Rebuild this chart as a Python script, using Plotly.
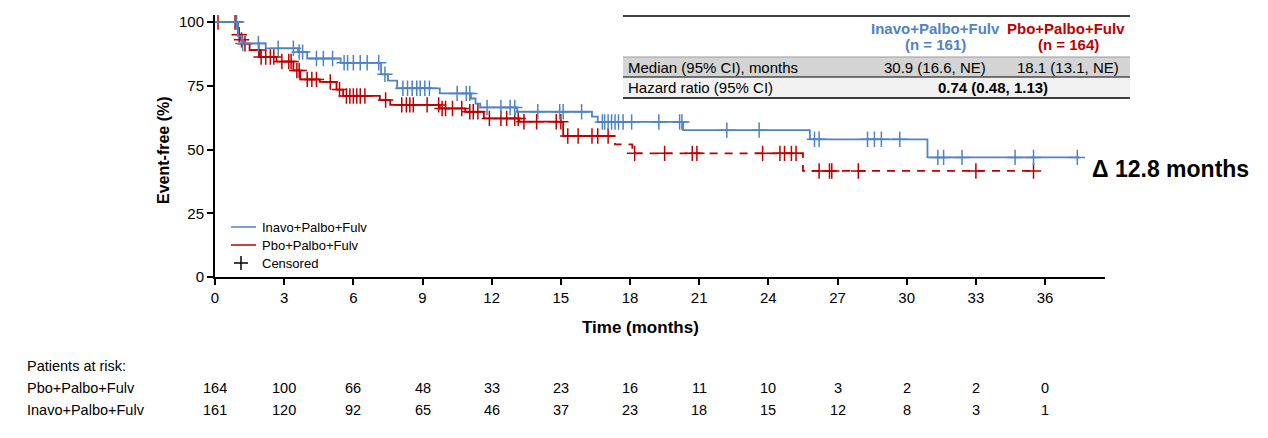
import numpy as np
import plotly.graph_objects as go

# ---------------- data ----------------
inavo_t = [0, 1.0, 1.15, 2.2, 3.6, 4.0, 5.45, 7.2, 7.5, 7.9, 9.75, 11.1, 11.3, 11.5,
           13.1, 16.35, 16.6, 20.3, 25.8, 30.9]
inavo_s = [100, 94.5, 91.6, 89.7, 88.2, 85.7, 84.0, 79.5, 77.0, 74.0, 72.0, 70.0, 68.0, 66.5,
           64.8, 62.9, 60.8, 57.6, 54.0, 46.9]
inavo_end = 37.5
inavo_cens = [0.94, 1.2, 1.88, 2.74, 3.4, 3.65, 3.8, 4.4, 4.7, 5.1, 5.6, 5.75, 6.0, 6.3, 6.6,
              7.1, 7.37, 8.15, 8.35, 8.55, 8.75, 8.9, 9.1, 9.3, 10.5, 10.9, 11.05, 11.8, 12.4,
              12.8, 13.0, 14.0, 14.95, 15.1, 15.9, 16.8, 16.9, 17.05, 17.2, 17.35, 17.5, 17.7,
              18.07, 19.25, 20.15, 20.25, 22.2, 23.6, 26.0, 26.2, 28.3, 28.6, 28.9, 29.7,
              31.35, 31.6, 32.4, 34.7, 35.5, 37.4]

pbo_t = [0, 1.0, 1.1, 1.2, 1.5, 1.95, 2.67, 3.4, 3.7, 4.55, 5.27, 5.56, 7.15, 7.6, 9.75,
         10.85, 11.66, 13.2, 15.1, 17.35, 18.1, 25.5]
pbo_s = [100, 95.0, 93.0, 91.5, 89.0, 86.3, 84.5, 81.0, 77.5, 76.5, 73.5, 71.0, 69.4, 67.5,
         66.1, 64.8, 62.2, 60.9, 55.3, 52.0, 48.5, 41.6]
pbo_end = 35.6
pbo_cens = [0.13, 0.87, 1.05, 1.15, 1.3, 1.9, 2.0, 2.2, 2.4, 2.55, 2.9, 3.2, 3.3, 3.55, 3.65,
            4.0, 4.2, 4.4, 5.0, 5.4, 5.7, 5.85, 6.0, 6.15, 6.3, 6.5, 7.4, 8.1, 8.3, 8.45, 8.6,
            9.2, 9.7, 9.85, 10.0, 10.3, 10.7, 11.05, 11.2, 11.4, 11.9, 12.4, 12.65, 13.0,
            13.15, 13.4, 13.95, 14.8, 15.0, 15.3, 15.75, 16.35, 16.6, 17.05, 18.2, 19.5,
            20.7, 20.9, 23.75, 24.5, 24.7, 25.0, 25.2, 26.2, 26.65, 26.75, 27.9, 33.0, 35.5]
pbo_dash_from = 17.0

x_ticks = [0, 3, 6, 9, 12, 15, 18, 21, 24, 27, 30, 33, 36]
y_ticks = [0, 25, 50, 75, 100]
risk_pbo = [164, 100, 66, 48, 33, 23, 16, 11, 10, 3, 2, 2, 0]
risk_inavo = [161, 120, 92, 65, 46, 37, 23, 18, 15, 12, 8, 3, 1]

arm_inavo = "Inavo+Palbo+Fulv"
arm_pbo = "Pbo+Palbo+Fulv"
tbl_median = ["30.9 (16.6, NE)", "18.1 (13.1, NE)"]
tbl_hr = "0.74 (0.48, 1.13)"
n_inavo, n_pbo = 161, 164
delta_text = "Δ 12.8 months"

# ---------------- styling ----------------
BLUE = "#4F83C6"
RED = "#C00000"
FONT = "Liberation Sans, Arial, Helvetica, sans-serif"

W_FIG, H_FIG = 1268, 438
L, R, T, B = 215, 1105, 15, 277
PW, PH = R - L, B - T


def px(x):
    return (x - L) / PW


def py(y):
    return (B - y) / PH


def surv_at(times, surv, t):
    idx = np.searchsorted(np.array(times), np.array(t), side="right") - 1
    return list(np.array(surv)[idx])


fig = go.Figure()

# Pbo (red): solid then dashed
s_split = surv_at(pbo_t, pbo_s, [pbo_dash_from])[0]
solid_x = [t for t in pbo_t if t < pbo_dash_from] + [pbo_dash_from]
solid_y = [s for t, s in zip(pbo_t, pbo_s) if t < pbo_dash_from] + [s_split]
dash_x = [pbo_dash_from] + [t for t in pbo_t if t > pbo_dash_from] + [pbo_end]
dash_y = [s_split] + [s for t, s in zip(pbo_t, pbo_s) if t > pbo_dash_from] + [pbo_s[-1]]

marker_common = dict(symbol="cross-thin", size=11)

fig.add_trace(go.Scatter(x=solid_x, y=solid_y, mode="lines", name=arm_pbo,
                         line=dict(color=RED, width=1.8, shape="hv")))
fig.add_trace(go.Scatter(x=dash_x, y=dash_y, mode="lines", name=arm_pbo,
                         line=dict(color=RED, width=1.8, shape="hv", dash="8px,7px")))
fig.add_trace(go.Scatter(x=pbo_cens, y=surv_at(pbo_t, pbo_s, pbo_cens), mode="markers",
                         name=arm_pbo + " censored",
                         marker=dict(**marker_common, line=dict(color=RED, width=1.5))))
fig.add_trace(go.Scatter(x=inavo_t + [inavo_end], y=inavo_s + [inavo_s[-1]], mode="lines",
                         name=arm_inavo, line=dict(color=BLUE, width=1.8, shape="hv")))
fig.add_trace(go.Scatter(x=inavo_cens, y=surv_at(inavo_t, inavo_s, inavo_cens), mode="markers",
                         name=arm_inavo + " censored",
                         marker=dict(**marker_common, line=dict(color=BLUE, width=1.5))))

# ---------------- table ----------------
shapes = []
TX0, TX1 = 623, 1130
shapes.append(dict(type="rect", xref="paper", yref="paper", x0=px(TX0), x1=px(TX1),
                   y0=py(77), y1=py(57), fillcolor="#D4D4D4", line=dict(width=0), layer="below"))
shapes.append(dict(type="rect", xref="paper", yref="paper", x0=px(TX0), x1=px(TX1),
                   y0=py(98), y1=py(77), fillcolor="#F2F2F2", line=dict(width=0), layer="below"))
for yy, col, w in [(16, "black", 1.5), (57, "#9A9A9A", 1), (77, "black", 1), (98, "black", 1.5)]:
    shapes.append(dict(type="line", xref="paper", yref="paper", x0=px(TX0), x1=px(TX1),
                       y0=py(yy), y1=py(yy), line=dict(color=col, width=w)))

# ---------------- manual legend ----------------
LEG_X0, LEG_X1, LEG_TX = 231, 256, 260
LEG_Y = [227, 245, 263]
shapes.append(dict(type="line", xref="paper", yref="paper", x0=px(LEG_X0), x1=px(LEG_X1),
                   y0=py(LEG_Y[0]), y1=py(LEG_Y[0]), line=dict(color=BLUE, width=1.5)))
shapes.append(dict(type="line", xref="paper", yref="paper", x0=px(LEG_X0), x1=px(LEG_X1),
                   y0=py(LEG_Y[1]), y1=py(LEG_Y[1]), line=dict(color=RED, width=1.5)))
cx, cy, hs = 241, LEG_Y[2], 7
shapes.append(dict(type="line", xref="paper", yref="paper", x0=px(cx - hs), x1=px(cx + hs),
                   y0=py(cy), y1=py(cy), line=dict(color="black", width=1.5)))
shapes.append(dict(type="line", xref="paper", yref="paper", x0=px(cx), x1=px(cx),
                   y0=py(cy - hs), y1=py(cy + hs), line=dict(color="black", width=1.5)))

ann = []


def text(x, y, s, size=15, color="black", bold=False, xanchor="center", xref="paper", angle=0):
    if bold:
        s = "<b>" + s + "</b>"
    ann.append(dict(x=px(x) if xref == "paper" else x, y=py(y), xref=xref, yref="paper",
                    text=s, showarrow=False, xanchor=xanchor, yanchor="middle",
                    font=dict(family=FONT, size=size, color=color), textangle=angle))


text(LEG_TX, LEG_Y[0], arm_inavo, size=13, xanchor="left")
text(LEG_TX, LEG_Y[1], arm_pbo, size=13, xanchor="left")
text(LEG_TX, LEG_Y[2], "Censored", size=13, xanchor="left")

text(935, 29, arm_inavo, color=BLUE, bold=True)
text(935, 45, f"(n = {n_inavo})", color=BLUE, bold=True)
text(1066, 29, arm_pbo, color=RED, bold=True)
text(1068, 45, f"(n = {n_pbo})", color=RED, bold=True)
text(626, 67, "Median (95% CI), months", xanchor="left")
text(935, 67, tbl_median[0])
text(1068, 67, tbl_median[1])
text(626, 87, "Hazard ratio (95% CI)", xanchor="left")
text(993, 87, tbl_hr, bold=True)

text(1090, 169, delta_text, size=23, bold=True, xanchor="left")

# axis titles
text(640, 327, "Time (months)", size=17, bold=True)
text(163, 150, "Event-free (%)", size=16, bold=True, angle=-90)

# at risk table
text(25, 366, "Patients at risk:", size=14.5, xanchor="left")
text(25, 388, arm_pbo, size=14.5, xanchor="left")
text(25, 410, arm_inavo, size=14.5, xanchor="left")
for xt, a, b in zip(x_ticks, risk_pbo, risk_inavo):
    text(xt, 388, str(a), size=14.5, xref="x")
    text(xt, 410, str(b), size=14.5, xref="x")

fig.update_layout(
    width=W_FIG, height=H_FIG,
    margin=dict(l=L, r=W_FIG - R, t=T, b=H_FIG - B, pad=0),
    plot_bgcolor="white", paper_bgcolor="white",
    font=dict(family=FONT, size=15, color="black"),
    shapes=shapes, annotations=ann,
    showlegend=False,
    xaxis=dict(range=[0, 38.6], tickvals=x_ticks, ticktext=[str(v) for v in x_ticks],
               showgrid=False, zeroline=False, showline=True, linecolor="black", linewidth=2,
               ticks="outside", ticklen=6, tickwidth=1.5, tickcolor="black",
               tickfont=dict(size=15), fixedrange=True),
    yaxis=dict(range=[0, 102.75], tickvals=y_ticks, ticktext=[str(v) for v in y_ticks],
               showgrid=False, zeroline=False, showline=True, linecolor="black", linewidth=2,
               ticks="outside", ticklen=6, tickwidth=1.5, tickcolor="black",
               tickfont=dict(size=15), fixedrange=True),
)

fig.write_html("out.html")
